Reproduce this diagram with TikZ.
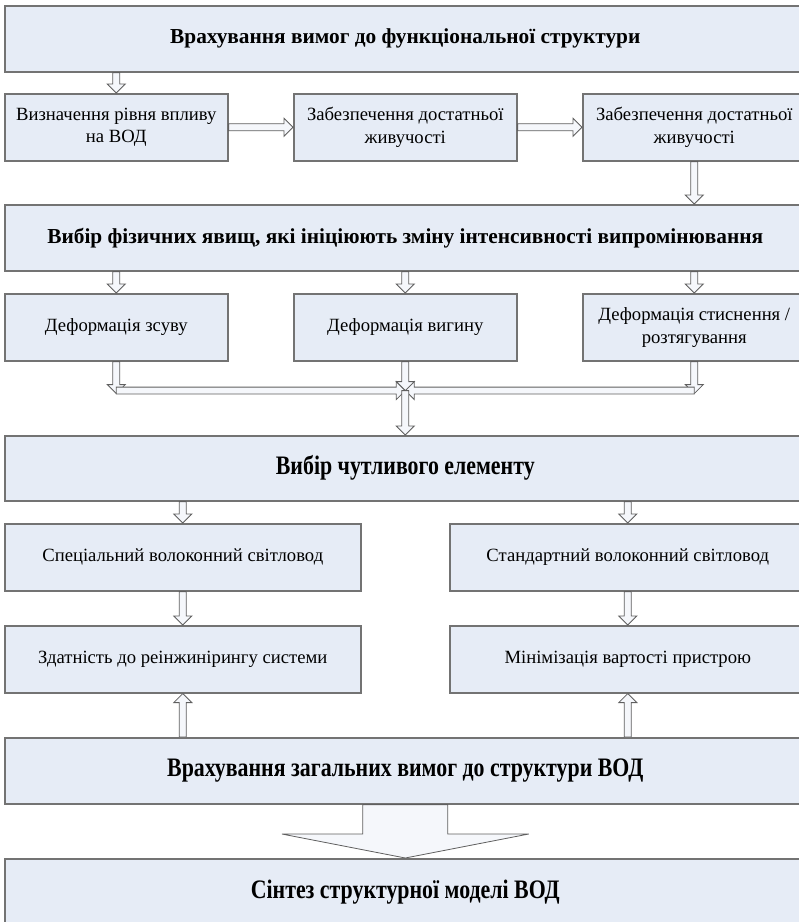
\documentclass[tikz,border=0pt]{standalone}
\usepackage{fontspec}
\setmainfont{Liberation Serif}
\newfontfamily\condfont[FakeStretch=0.82]{Liberation Serif}
\usetikzlibrary{calc}

\definecolor{boxfill}{RGB}{230,236,246}
\definecolor{boxline}{RGB}{115,115,115}
\definecolor{arrline}{RGB}{95,95,95}

\tikzset{
  box/.style={draw=boxline, line width=1.2pt, fill=boxfill, anchor=north west,
    align=center, inner sep=2pt, font=\fontsize{14}{17}\selectfont,
    minimum width=167.25pt, minimum height=50.25pt},
  wide/.style={box, minimum width=600.75pt, minimum height=49.5pt,
    font=\fontsize{16}{19}\selectfont\bfseries},
  widec/.style={wide, font=\fontsize{20}{24}\selectfont\condfont\bfseries},
  half/.style={box, minimum width=267pt},
  arr/.style={draw=arrline, line width=0.6pt, fill=boxfill!40!white},
}

% hollow block arrow: start, end, shaft half width, head half width, head length
\newcommand{\fatarrow}[5]{%
  \draw[arr] let \p1=#1, \p2=#2, \n1={atan2(\y2-\y1,\x2-\x1)} in
    ($(\p1)+(\n1+90:#3)$) -- ($(\p2)+(\n1+180:#5)+(\n1+90:#3)$)
    -- ($(\p2)+(\n1+180:#5)+(\n1+90:#4)$) -- (\p2)
    -- ($(\p2)+(\n1+180:#5)+(\n1-90:#4)$) -- ($(\p2)+(\n1+180:#5)+(\n1-90:#3)$)
    -- ($(\p1)+(\n1-90:#3)$) -- cycle;}
\newcommand{\harrow}[2]{\fatarrow{#1}{#2}{2.6pt}{6.75pt}{6.75pt}}

\begin{document}
\begin{tikzpicture}[x=0.75pt, y=-0.75pt]
  \useasboundingbox (0,0) rectangle (799,922);

  % === Functional structure ===
  \node[wide] (W1) at (4,5) {Врахування вимог до функціональної структури};
  \node[box] (A) at (4,93) {Визначення рівня впливу\\на ВОД};
  \node[box] (B) at (293,93) {Забезпечення достатньої\\живучості};
  \node[box] (C) at (582,93) {Забезпечення достатньої\\живучості};

  \harrow{(W1.south -| A.north)}{(A.north)}
  \harrow{(A.east)}{(B.west)}
  \harrow{(B.east)}{(C.west)}

  % === Physical effects ===
  \node[wide] (W2) at (4,204)
    {Вибір фізичних явищ, які ініціюють зміну інтенсивності випромінювання};
  \node[box] (D) at (4,293) {Деформація зсуву};
  \node[box] (E) at (293,293) {Деформація вигину};
  \node[box] (F) at (582,293) {Деформація стиснення /\\розтягування};

  \harrow{(C.south)}{(C.south |- W2.north)}
  \foreach \b in {D,E,F} {
    \harrow{(W2.south -| \b.north)}{(\b.north)}
  }

  % Junction
  \node[widec, minimum height=48.75pt] (W3) at (4,435) {Вибір чутливого елементу};
  \coordinate (jn) at ($(E.south)+(0,29)$);
  \harrow{(D.south)}{($(D.south |- jn)+(0,3)$)}
  \harrow{(F.south)}{($(F.south |- jn)+(0,3)$)}
  \harrow{(D.south |- jn)}{(jn)}
  \harrow{(F.south |- jn)}{(jn)}
  \harrow{(E.south)}{(jn)}
  \harrow{(jn)}{(jn |- W3.north)}

  % === Sensing element ===
  \node[half] (G) at (4,523) {Спеціальний волоконний світловод};
  \node[half] (H) at (449,523) {Стандартний волоконний світловод};
  \node[half] (I) at (4,625) {Здатність до реінжинірингу системи};
  \node[half] (J) at (449,625) {Мінімізація вартості пристрою};

  \harrow{(W3.south -| G.north)}{(G.north)}
  \harrow{(W3.south -| H.north)}{(H.north)}
  \harrow{(G.south)}{(I.north)}
  \harrow{(H.south)}{(J.north)}

  % === General requirements and synthesis ===
  \node[widec] (W4) at (4,737) {Врахування загальних вимог до структури ВОД};
  \node[widec] (W5) at (4,858) {Сінтез структурної моделі ВОД};

  \harrow{(W4.north -| I.south)}{(I.south)}
  \harrow{(W4.north -| J.south)}{(J.south)}
  \fatarrow{(W4.south -| E.south)}{(W5.north -| E.south)}{31.9pt}{92.6pt}{18pt}

\end{tikzpicture}
\end{document}
